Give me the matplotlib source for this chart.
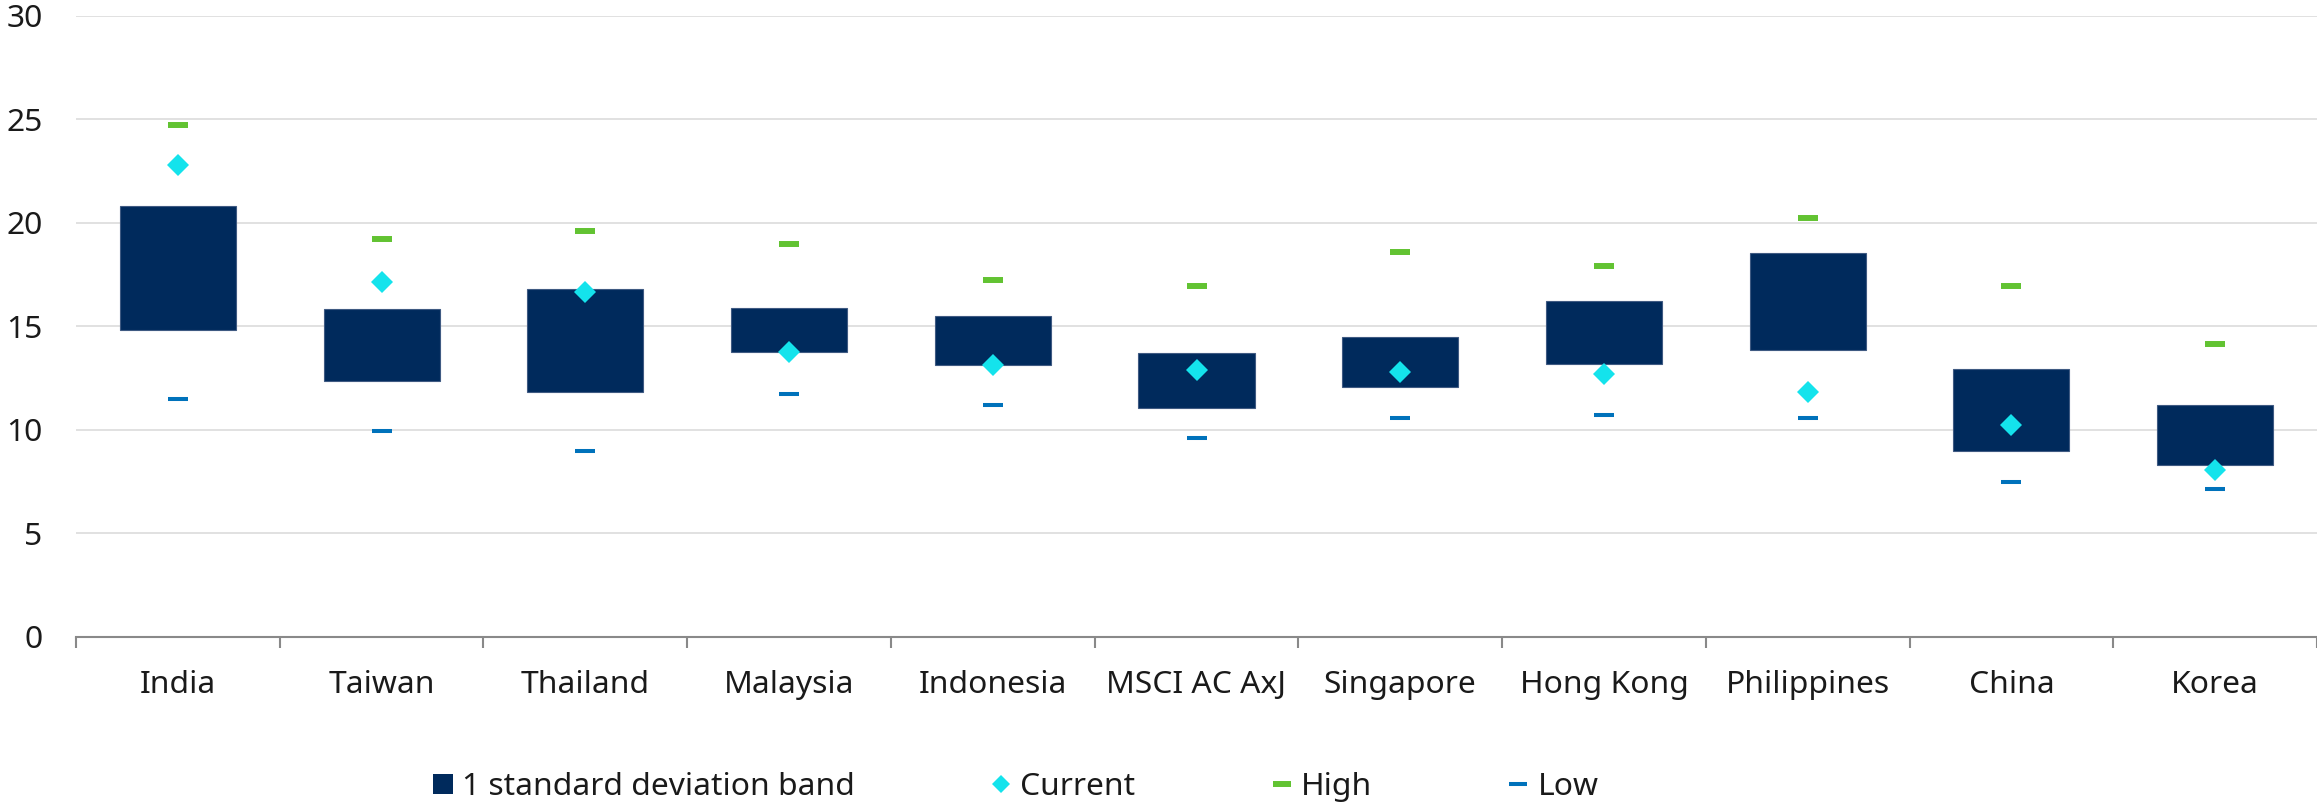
import matplotlib
matplotlib.use("Agg")
import matplotlib.pyplot as plt
from matplotlib.lines import Line2D
import numpy as np

categories = ["India", "Taiwan", "Thailand", "Malaysia", "Indonesia", "MSCI AC AxJ",
              "Singapore", "Hong Kong", "Philippines", "China", "Korea"]
band_low = [14.80, 12.36, 11.82, 13.75, 13.13, 11.05, 12.05, 13.16, 13.88, 8.96, 8.32]
band_high = [20.82, 15.85, 16.78, 15.91, 15.52, 13.69, 14.48, 16.20, 18.52, 12.92, 11.18]
current = [22.78, 17.12, 16.65, 13.74, 13.14, 12.89, 12.80, 12.71, 11.84, 10.22, 8.05]
high = [24.73, 19.24, 19.58, 19.00, 17.23, 16.93, 18.57, 17.92, 20.24, 16.93, 14.16]
low = [11.49, 9.94, 8.99, 11.74, 11.21, 9.62, 10.57, 10.71, 10.57, 7.48, 7.16]
yticks = [0, 5, 10, 15, 20, 25, 30]

C_BAND = "#002A5C"
C_CUR = "#14E3EC"
C_HIGH = "#62C332"
C_LOW = "#0072BB"

FS = 22.9
plt.rcParams["font.family"] = ["Noto Sans", "DejaVu Sans"]
W, H = 2317, 802
fig = plt.figure(figsize=(W / 100, H / 100), dpi=100)
ax = fig.add_axes([76 / W, 1 - 637 / H, (W - 76) / W, (637 - 15.7) / H])

x = np.arange(len(categories))
heights = np.array(band_high) - np.array(band_low)
ax.bar(x, heights, bottom=band_low, width=0.57, color=C_BAND,
       edgecolor="#3f5a82", linewidth=0.8, zorder=3)
ax.plot(x, high, linestyle="none", marker="_", markersize=15.0, mew=4.3,
        color=C_HIGH, zorder=4)
ax.plot(x, low, linestyle="none", marker="_", markersize=13.7, mew=2.9,
        color=C_LOW, zorder=4)
ax.plot(x, current, linestyle="none", marker="D", markersize=11.5, mew=0,
        color=C_CUR, zorder=5)

ax.set_xlim(-0.5, len(categories) - 0.5)
ax.set_ylim(0, 30)
ax.set_yticks(yticks)
ax.set_yticklabels([str(v) for v in yticks])
ax.set_xticks(x)
ax.set_xticklabels(categories)
ax.set_xticks(np.arange(len(categories) + 1) - 0.5, minor=True)

ax.grid(axis="y", color="#d9d9d9", linewidth=1.1, zorder=0)
ax.set_axisbelow(True)
for s in ["top", "right", "left"]:
    ax.spines[s].set_visible(False)
ax.spines["bottom"].set_color("#898989")
ax.spines["bottom"].set_linewidth(1.5)
ax.spines["bottom"].set_zorder(2)

ax.tick_params(axis="y", which="major", length=0, pad=24, labelsize=FS,
               labelcolor="#1a1a1a")
ax.tick_params(axis="x", which="major", length=0, pad=23.5, labelsize=FS,
               labelcolor="#1a1a1a")
ax.tick_params(axis="x", which="minor", length=8, width=1.5, color="#898989",
               direction="out")

fs_px = FS * 100 / 72
handles = [
    Line2D([], [], linestyle="none", marker="s", markersize=13.7, mew=0, color=C_BAND),
    Line2D([], [], linestyle="none", marker="D", markersize=9.0, mew=0, color=C_CUR),
    Line2D([], [], linestyle="none", marker="_", markersize=13.0, mew=4.3, color=C_HIGH),
    Line2D([], [], linestyle="none", marker="_", markersize=13.0, mew=2.9, color=C_LOW),
]
labels = ["1 standard deviation band", "Current", "High", "Low"]
fig.legend(handles, labels, loc="center left", ncol=4,
           bbox_to_anchor=(433 / W, 1 - 787 / H), frameon=False,
           fontsize=FS, handlelength=19 / fs_px, handletextpad=10 / fs_px,
           columnspacing=136.5 / fs_px, borderpad=0, borderaxespad=0,
           labelcolor="#1a1a1a")

fig.savefig("out.png", dpi=100)
